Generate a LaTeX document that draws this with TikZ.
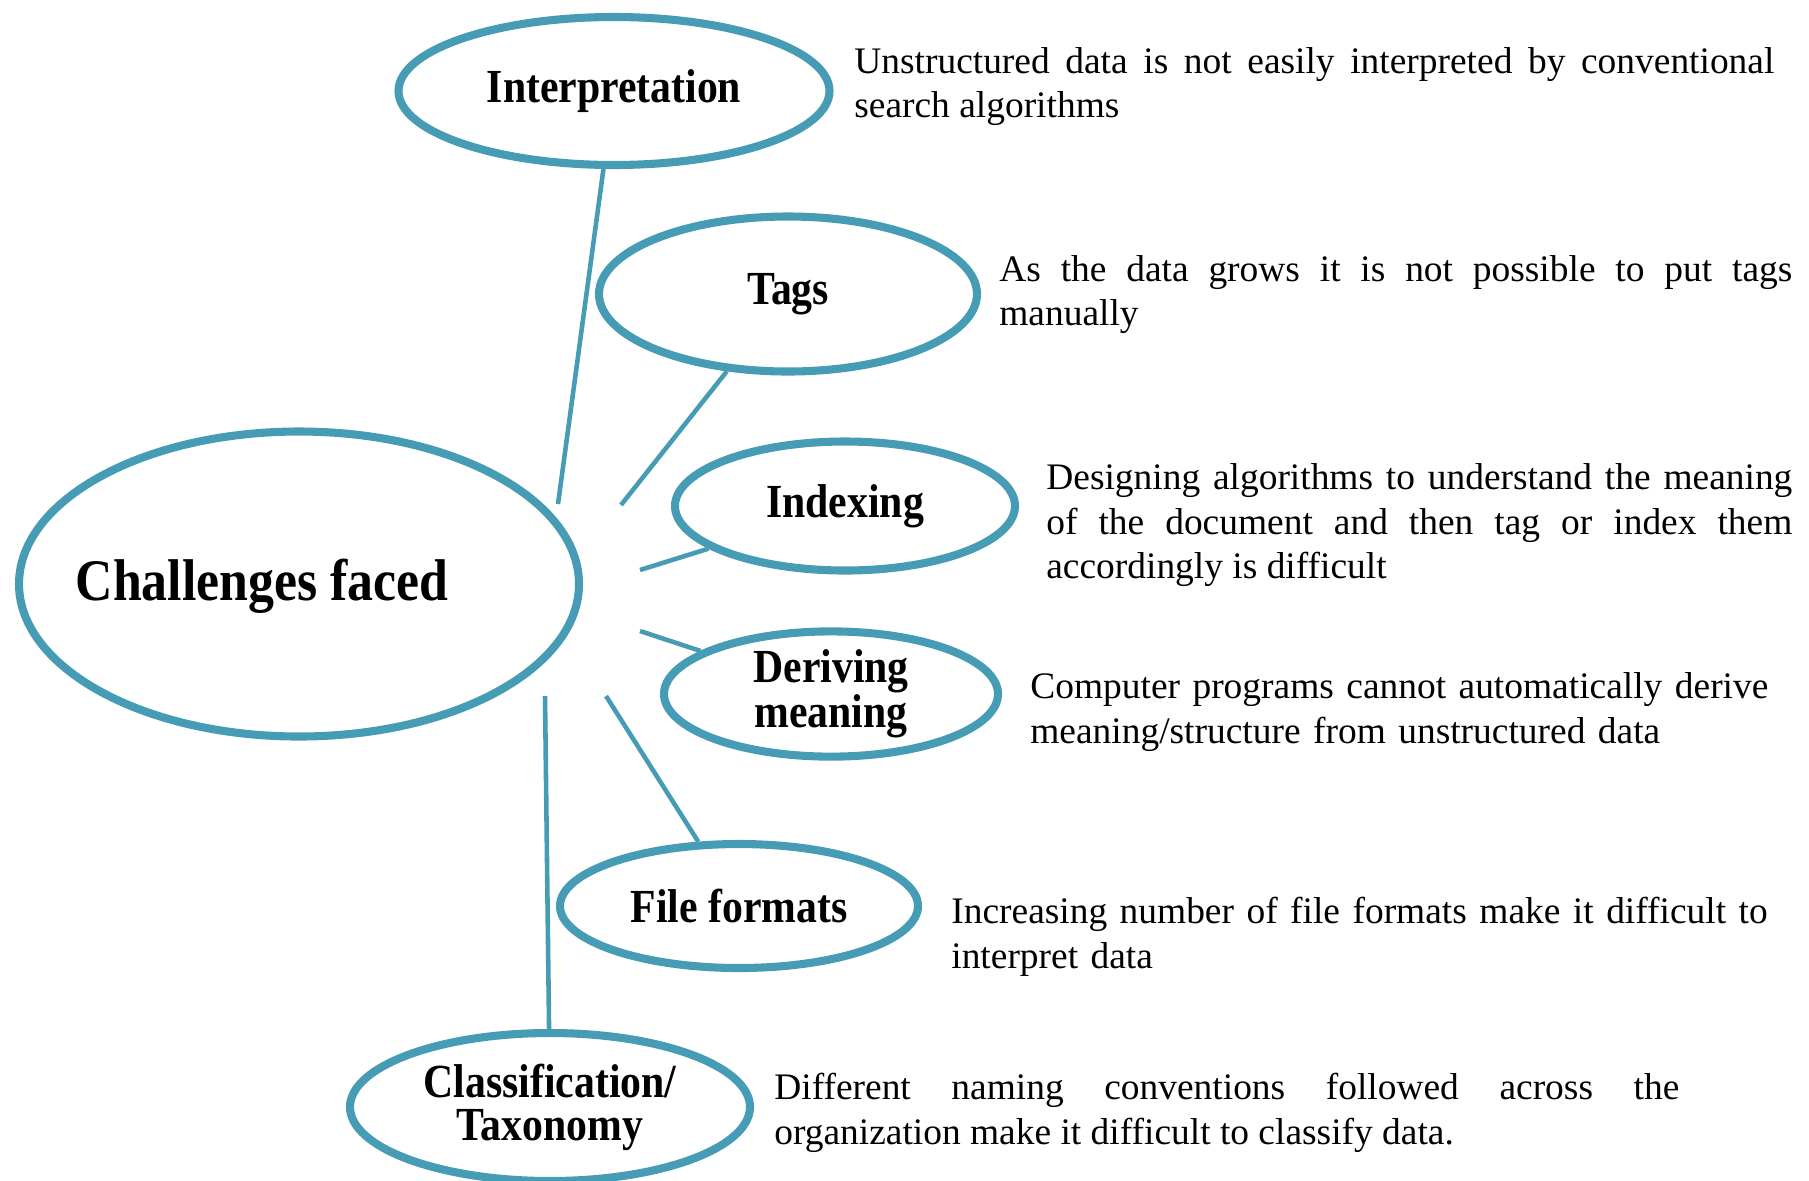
\documentclass[tikz,border=0pt]{standalone}
\usepackage{fontspec}
\setmainfont{Liberation Serif}
\newfontfamily\ttlfont[FakeStretch=0.88]{Liberation Serif}
\usetikzlibrary{shapes.geometric}
\definecolor{chalblue}{RGB}{70,156,180}

\begin{document}
\begin{tikzpicture}[
        topic/.style = {ellipse, draw=chalblue, line width=4.6pt, inner sep=0pt, align=center, font=\ttlfont\bfseries\fontsize{27}{24.5}\selectfont},
        link/.style = {draw=chalblue, line width=2.6pt},
        note/.style = {anchor=base west, inner sep=0pt, font=\fontsize{21.3}{25.6}\selectfont}
    ]
        \useasboundingbox (0, 0) rectangle (36.18, -23.6);
        \node[topic, minimum width=11.2cm, minimum height=6.1cm, label={[xshift=-0.74cm, yshift=-0.05cm, font=\ttlfont\bfseries\fontsize{33.5}{38}\selectfont]center:Challenges faced}] (chal) at (5.98, -11.68) {};
        \node[topic, minimum width=8.62cm, minimum height=2.96cm] (interp) at (12.28, -1.82) {Interpretation};
        \node[topic, minimum width=7.56cm, minimum height=3.1cm] (tags) at (15.76, -5.88) {Tags};
        \node[topic, minimum width=6.8cm, minimum height=2.58cm] (index) at (16.9, -10.12) {Indexing};
        \node[topic, minimum width=6.68cm, minimum height=2.48cm] (derive) at (16.62, -13.88) {Deriving\\meaning};
        \node[topic, minimum width=7.16cm, minimum height=2.48cm] (formats) at (14.78, -18.12) {File formats};
        \node[topic, minimum width=8.0cm, minimum height=2.96cm] (taxo) at (11.0, -22.14) {Classification/\\Taxonomy};

        \coordinate (c1) at (11.16, -10.08);
        \coordinate (c2) at (12.42, -10.1);
        \coordinate (c3) at (12.8, -11.4);
        \coordinate (c4) at (12.8, -12.62);
        \coordinate (c5) at (12.12, -13.92);
        \coordinate (c6) at (10.9, -13.92);
        \draw[link] (interp) -- (c1);
        \draw[link] (tags) -- (c2);
        \draw[link] (index) -- (c3);
        \draw[link] (derive) -- (c4);
        \draw[link] (formats) -- (c5);
        \draw[link] (taxo) -- (c6);

        \node[note, align=justify, text width=18.4cm] (interpnote) at (17.08, -1.46) {Unstructured data is not easily interpreted by conventional\linebreak search algorithms};
        \node[note, align=justify, text width=15.86cm] (tagsnote) at (19.98, -5.62) {As the data grows it is not possible to put tags\linebreak manually};
        \node[note, align=justify, text width=14.92cm] (indexnote) at (20.92, -9.78) {Designing algorithms to understand the meaning\linebreak of the document and then tag or index them\linebreak accordingly is difficult};
        \node[note, align=left, text width=15.2cm] (derivenote) at (20.6, -13.96) {Computer programs cannot automatically derive\\meaning/structure from unstructured data};
        \node[note, align=left, text width=16.4cm] (formatsnote) at (19.02, -18.46) {Increasing number of file formats make it difficult to\\interpret data};
        \node[note, align=justify, text width=18.1cm] (taxonote) at (15.48, -21.98) {Different naming conventions followed across the\linebreak organization make it difficult to classify data.};
    \end{tikzpicture}
\end{document}
